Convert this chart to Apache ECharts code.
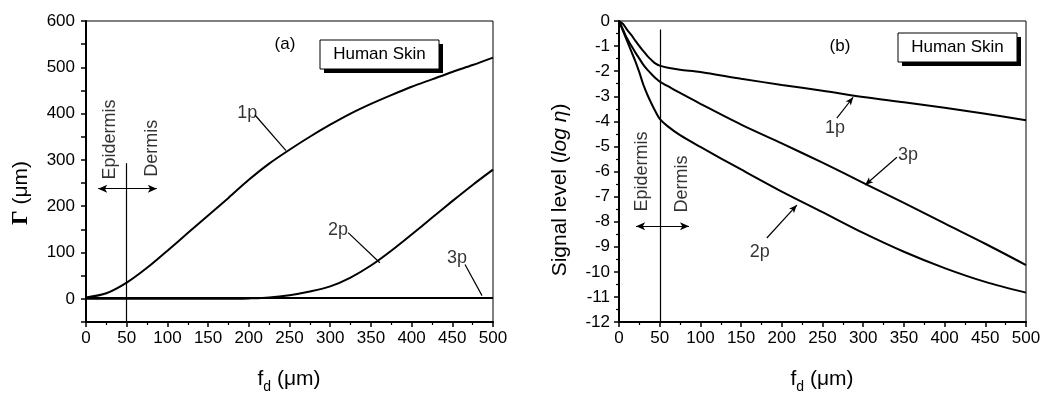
<!DOCTYPE html>
<html><head><meta charset="utf-8">
<script src="https://cdn.jsdelivr.net/npm/echarts@6/dist/echarts.min.js"></script>
<style>html,body{margin:0;padding:0;background:#fff}#c{width:1045px;height:393px}</style>
</head><body><div id="c"></div>
<script>
// ---- Panel (a): penetration depth Gamma (um) vs fd (um)
const gammaX   = [0,25,50,75,100,125,150,175,200,225,250,275,300,325,350,375,400,425,450,475,500];
const gamma1p  = [3,12,35,67,104,142,180,218,257,292,322,350,376,400,421,440,458,474,490,505,521];
const gamma2p  = [0,0,0,0,0,0,0,0,1,3,8,16,27,46,72,104,139,175,211,246,279];
const gamma3p  = [2,2,2,2,2,2,2,2,2,2,2,2,2,2,2,2,2,2,2,2,2];
// ---- Panel (b): signal level log(eta) vs fd (um)
const sigX     = [0,5,10,15,20,25,30,35,40,45,50,60,75,100,150,200,250,300,350,400,450,500];
const sig1p    = [0,-0.12,-0.35,-0.55,-0.78,-1.0,-1.2,-1.4,-1.56,-1.7,-1.78,-1.86,-1.94,-2.03,-2.3,-2.55,-2.78,-3.03,-3.24,-3.46,-3.7,-3.96];
const sig2p    = [0,-0.4,-0.8,-1.2,-1.6,-2.05,-2.55,-2.95,-3.3,-3.62,-3.9,-4.2,-4.55,-5.02,-5.92,-6.8,-7.62,-8.45,-9.2,-9.85,-10.4,-10.83];
const sig3p    = [0,-0.35,-0.7,-0.98,-1.25,-1.5,-1.75,-1.95,-2.12,-2.28,-2.42,-2.6,-2.87,-3.3,-4.13,-4.88,-5.65,-6.45,-7.25,-8.07,-8.88,-9.73];
// ---- Annotations (data coordinates)
const labelsA   = [['1p',198,401],['2p',309.6,149],['3p',455.8,89]];
const pointersA = [[[207.6,397],[245.7,320]],[[322,143],[361,78]],[[465.6,74],[486.5,7]]];
const layerTextA = [['Epidermis',30,344],['Dermis',81,325]];
const boundaryA = [[50,-50],[50,293]];
const arrowA    = [[15,238],[87,238]];
const labelsB   = [['1p',265.5,-4.27],['3p',355,-5.35],['2p',173,-9.21]];
const pointersB = [[[267.6,-3.87],[287.7,-3.04]],[[341.4,-5.43],[302.4,-6.54]],[[181.6,-8.65],[218.5,-7.34]]];
const layerTextB = [['Epidermis',28,-6.0],['Dermis',77.5,-6.5]];
const boundaryB = [[51,-0.34],[51,-12]];
const arrowB    = [[21,-8.18],[86,-8.18]];

const FONT = "'Liberation Sans', Arial, sans-serif";
const zip = (xs, ys) => xs.map((x,i)=>[x, ys[i]]);

function xAxisCfg(i){
  return {gridIndex:i, type:'value', min:0, max:500, interval:50,
    axisLine:{onZero:false, lineStyle:{color:'#000', width:2}},
    axisTick:{length:5, lineStyle:{color:'#000', width:1.5}},
    minorTick:{show:true, splitNumber:2, length:3, lineStyle:{color:'#000', width:1.2}},
    splitLine:{show:false},
    axisLabel:{color:'#000', fontSize:17, fontFamily:FONT, margin:8}};
}
function curve(name, xs, ys, i){
  return {name, type:'line', xAxisIndex:i, yAxisIndex:i, data:zip(xs,ys), symbol:'none', smooth:0.3,
    lineStyle:{color:'#000', width:2}, z:3, silent:true};
}
function annot(i, labels, pointers, layerText, boundary, arrow, arrowHeads){
  const ml = [];
  ml.push([{coord:boundary[0], symbol:'none'},{coord:boundary[1], symbol:'none'}]);
  ml.push([{coord:arrow[0], symbol:'arrow', symbolSize:[6,9]},{coord:arrow[1], symbol:'arrow', symbolSize:[6,9]}]);
  pointers.forEach(p=>ml.push([{coord:p[0], symbol:'none'},{coord:p[1], symbol: arrowHeads?'arrow':'none', symbolSize:[5,8]}]));
  return [
    {type:'scatter', xAxisIndex:i, yAxisIndex:i, symbolSize:1, itemStyle:{color:'rgba(0,0,0,0)'}, silent:true,
      data: labels.map(l=>({name:l[0], value:[l[1],l[2]]})),
      label:{show:true, position:'inside', formatter:'{b}', color:'#000', fontSize:18, fontFamily:FONT},
      markLine:{silent:true, animation:false, symbol:['none','none'], label:{show:false},
        lineStyle:{color:'#000', width:1.2, type:'solid'}, emphasis:{disabled:true}, data:ml}},
    {type:'scatter', xAxisIndex:i, yAxisIndex:i, symbolSize:1, itemStyle:{color:'rgba(0,0,0,0)'}, silent:true,
      data: layerText.map(l=>({name:l[0], value:[l[1],l[2]]})),
      label:{show:true, position:'inside', rotate:90, formatter:'{b}', color:'#000', fontSize:18, fontFamily:FONT}}
  ];
}
function box(x, y, w, h, text){
  return [
    {type:'rect', shape:{x:x+4, y:y+4, width:w, height:h}, style:{fill:'#000'}},
    {type:'rect', shape:{x:x, y:y, width:w, height:h}, style:{fill:'#fff', stroke:'#000', lineWidth:1}},
    {type:'text', x:x+w/2, y:y+h/2, style:{text, fill:'#000', font:"17px "+FONT, align:'center', verticalAlign:'middle'}}
  ];
}
const xTitleRich = {
  n:{fontSize:21, fontFamily:FONT, color:'#000', lineHeight:30},
  s:{fontSize:14, fontFamily:FONT, color:'#000', lineHeight:14, verticalAlign:'bottom'}
};

const option = {
  animation:false,
  backgroundColor:'#fff',
  grid:[
    {left:86, top:21, width:407, height:301, show:true, borderColor:'#000', borderWidth:1, containLabel:false},
    {left:619, top:21, width:407, height:301, show:true, borderColor:'#000', borderWidth:1, containLabel:false}
  ],
  xAxis:[xAxisCfg(0), xAxisCfg(1)],
  yAxis:[
    {gridIndex:0, type:'value', min:-50, max:600, interval:50,
      axisLine:{show:true, onZero:false, lineStyle:{color:'#000', width:2}},
      axisTick:{length:5, lineStyle:{color:'#000', width:1.5}},
      splitLine:{show:false},
      axisLabel:{color:'#000', fontSize:17, fontFamily:FONT, margin:11, formatter:v=> (v%100===0 ? String(v) : '')}},
    {gridIndex:1, type:'value', min:-12, max:0, interval:1,
      axisLine:{show:true, onZero:false, lineStyle:{color:'#000', width:2}},
      axisTick:{length:5, lineStyle:{color:'#000', width:1.5}},
      minorTick:{show:true, splitNumber:2, length:3, lineStyle:{color:'#000', width:1.2}},
      splitLine:{show:false},
      axisLabel:{color:'#000', fontSize:17, fontFamily:FONT, margin:9}}
  ],
  series:[
    curve('1p', gammaX, gamma1p, 0),
    curve('2p', gammaX, gamma2p, 0),
    curve('3p', gammaX, gamma3p, 0),
    curve('1p', sigX, sig1p, 1),
    curve('2p', sigX, sig2p, 1),
    curve('3p', sigX, sig3p, 1),
    ...annot(0, labelsA, pointersA, layerTextA, boundaryA, arrowA, false),
    ...annot(1, labelsB, pointersB, layerTextB, boundaryB, arrowB, true)
  ],
  graphic:[
    {type:'text', x:285, y:44, style:{text:'(a)', fill:'#000', font:"17px "+FONT, align:'center', verticalAlign:'middle'}},
    {type:'text', x:840, y:46, style:{text:'(b)', fill:'#000', font:"17px "+FONT, align:'center', verticalAlign:'middle'}},
    ...box(320, 40, 119, 29, 'Human Skin'),
    ...box(898, 33, 119, 29, 'Human Skin'),
    {type:'text', x:21, y:193, rotation:Math.PI/2,
      style:{text:'{g|Γ}{n| (μm)}', align:'center', verticalAlign:'middle',
        rich:{g:{fontSize:23, fontFamily:"'Liberation Serif', serif", fontWeight:'bold', color:'#000'},
              n:{fontSize:21, fontFamily:FONT, color:'#000'}}}},
    {type:'text', x:560, y:190, rotation:Math.PI/2,
      style:{text:'{n|Signal level (}{i|log η}{n|)}', align:'center', verticalAlign:'middle',
        rich:{n:{fontSize:21, fontFamily:FONT, color:'#000'},
              i:{fontSize:21, fontFamily:FONT, fontStyle:'italic', color:'#000'}}}},
    {type:'text', x:289, y:379, style:{text:'{n|f}{s|d}{n| (μm)}', align:'center', verticalAlign:'middle', rich:xTitleRich}},
    {type:'text', x:822, y:379, style:{text:'{n|f}{s|d}{n| (μm)}', align:'center', verticalAlign:'middle', rich:xTitleRich}}
  ]
};
const chart = echarts.init(document.getElementById('c'), null, {renderer:'canvas'});
chart.setOption(option);
</script></body></html>
